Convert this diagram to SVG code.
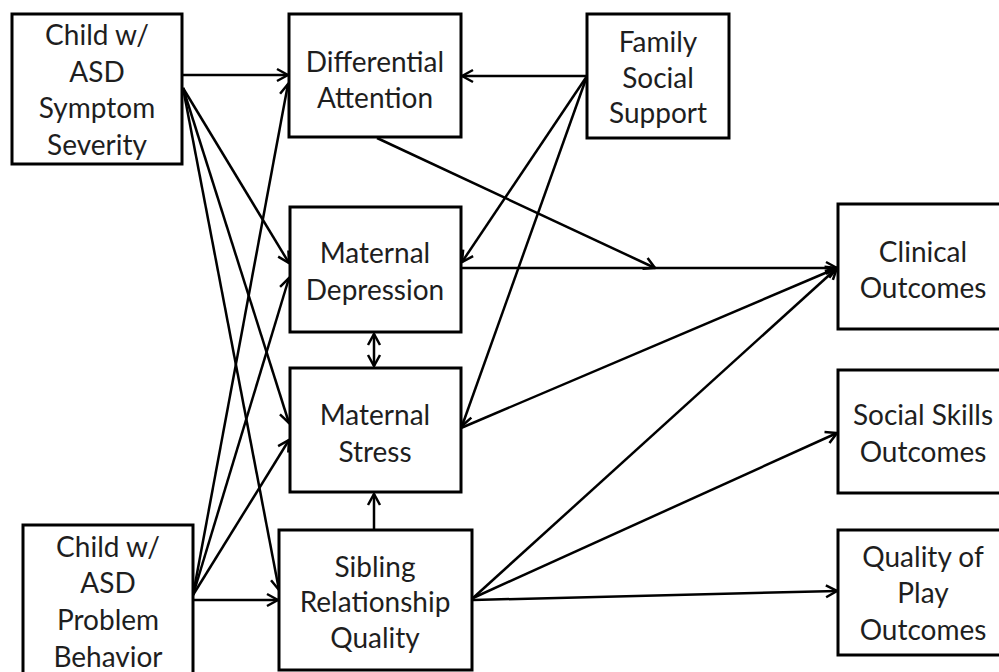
<svg xmlns="http://www.w3.org/2000/svg" width="999" height="672" viewBox="0 0 999 672">
  <style>
    .box { fill: #ffffff; stroke: #000000; stroke-width: 3; }
    .lbl { font-family: Lato, "Open Sans", "Liberation Sans", sans-serif; font-size: 28px; fill: #1e1e1e; text-anchor: middle; }
    .edge { stroke: #000000; stroke-width: 2.5; fill: none; marker-end: url(#arrow); }
  </style>
  <defs>
    <marker id="arrow" markerUnits="userSpaceOnUse" viewBox="-13 -8 15 16" markerWidth="15" markerHeight="16" refX="0" refY="0" orient="auto-start-reverse">
      <path d="M-11,-6 L0,0 L-11,6" fill="none" stroke="#000000" stroke-width="2.5" stroke-linejoin="miter"/>
    </marker>
  </defs>
  <rect width="999" height="672" fill="#ffffff"/>

  <!-- connectors -->
  <g id="connectors">
    <path class="edge" d="M183,75 L288,75"/>
    <path class="edge" d="M183,88 L289,263"/>
    <path class="edge" d="M183,88 L289,423"/>
    <path class="edge" d="M183,88 L279,590"/>
    <path class="edge" d="M193,595 L288,84"/>
    <path class="edge" d="M193,595 L289,278"/>
    <path class="edge" d="M193,595 L289,440"/>
    <path class="edge" d="M193,600 L278,600"/>
    <path class="edge" d="M587,76 L462,76"/>
    <path class="edge" d="M587,76 L462,262"/>
    <path class="edge" d="M587,76 L462,426"/>
    <path class="edge" d="M377,138 L655,268"/>
    <path class="edge" d="M461,268 L837,268"/>
    <path class="edge" d="M461,428 L837,268"/>
    <path class="edge" d="M473,598 L837,268"/>
    <path class="edge" d="M473,598 L837,433"/>
    <path class="edge" d="M473,600 L837,591"/>
    <path class="edge" d="M374,530 L374,494"/>
    <path class="edge" d="M374,334 L374,366" marker-start="url(#arrow)"/>
  </g>

  <!-- nodes -->
  <g id="symptom-severity">
    <rect class="box" x="12" y="14" width="170" height="150"/>
    <text class="lbl" x="97" y="45">Child w/</text>
    <text class="lbl" x="97" y="82">ASD</text>
    <text class="lbl" x="97" y="118">Symptom</text>
    <text class="lbl" x="97" y="155">Severity</text>
  </g>
  <g id="differential-attention">
    <rect class="box" x="289" y="14" width="172" height="123"/>
    <text class="lbl" x="375" y="72">Differential</text>
    <text class="lbl" x="375" y="108">Attention</text>
  </g>
  <g id="family-support">
    <rect class="box" x="587" y="14" width="142" height="124"/>
    <text class="lbl" x="658" y="52">Family</text>
    <text class="lbl" x="658" y="88">Social</text>
    <text class="lbl" x="658" y="123">Support</text>
  </g>
  <g id="maternal-depression">
    <rect class="box" x="290" y="207" width="171" height="125"/>
    <text class="lbl" x="375" y="263">Maternal</text>
    <text class="lbl" x="375" y="300">Depression</text>
  </g>
  <g id="maternal-stress">
    <rect class="box" x="290" y="368" width="171" height="124"/>
    <text class="lbl" x="375" y="425">Maternal</text>
    <text class="lbl" x="375" y="462">Stress</text>
  </g>
  <g id="sibling-relationship">
    <rect class="box" x="279" y="530" width="193" height="140"/>
    <text class="lbl" x="375" y="577">Sibling</text>
    <text class="lbl" x="375" y="612">Relationship</text>
    <text class="lbl" x="375" y="648">Quality</text>
  </g>
  <g id="problem-behavior">
    <rect class="box" x="23" y="525" width="170" height="165"/>
    <text class="lbl" x="108" y="557">Child w/</text>
    <text class="lbl" x="108" y="593">ASD</text>
    <text class="lbl" x="108" y="630">Problem</text>
    <text class="lbl" x="108" y="667">Behavior</text>
  </g>
  <g id="clinical-outcomes">
    <rect class="box" x="838" y="204" width="170" height="125"/>
    <text class="lbl" x="923" y="262">Clinical</text>
    <text class="lbl" x="923" y="298">Outcomes</text>
  </g>
  <g id="social-skills-outcomes">
    <rect class="box" x="838" y="370" width="170" height="123"/>
    <text class="lbl" x="923" y="425">Social Skills</text>
    <text class="lbl" x="923" y="462">Outcomes</text>
  </g>
  <g id="play-outcomes">
    <rect class="box" x="838" y="530" width="170" height="125"/>
    <text class="lbl" x="923" y="567">Quality of</text>
    <text class="lbl" x="923" y="603">Play</text>
    <text class="lbl" x="923" y="640">Outcomes</text>
  </g>
</svg>
